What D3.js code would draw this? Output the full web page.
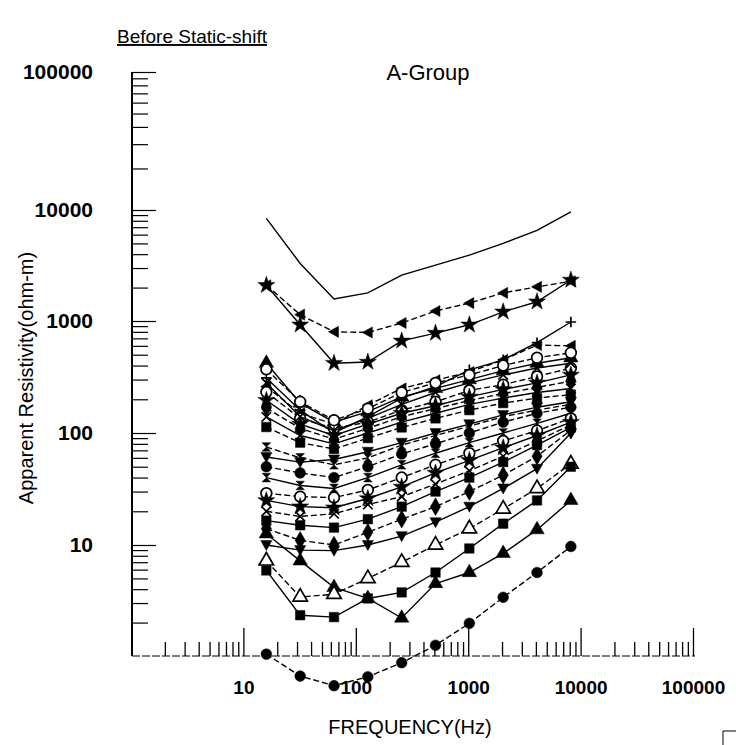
<html lang="en">
<head>
  <meta http-equiv="Content-Type" content="text/html; charset=utf-8" />
  <script src="https://d3js.org/d3.v7.min.js"></script>
  <style>
    body { margin: 0; background: #fff; }
    text { font-family: "Liberation Sans", Arial, sans-serif; fill: #000; }
  </style>
</head>
<body>
  <div id="chart"></div>
  <script>
    'use strict';
    const svgWidth = 736;
    const svgHeight = 745;

    // frequencies sampled (Hz)
    const freqs = [16, 32, 64, 128, 256, 512, 1024, 2048, 4096, 8192];

    // apparent resistivity (ohm-m), one list per station
    const s01 = [8400, 3300, 1580, 1790, 2590, 3190, 3920, 5000, 6550, 9600];
    const s02 = [2100, 1140, 800, 790, 960, 1230, 1450, 1790, 2030, 2280];
    const s03 = [2100, 925, 420, 430, 665, 780, 925, 1210, 1490, 2340];
    const s04 = [420, 185, 125, 155, 210, 250, 300, 360, 420, 470];
    const s05 = [310, 160, 100, 140, 205, 260, 366, 450, 640, 980];
    const s06 = [260, 150, 120, 177, 250, 296, 350, 450, 610, 600];
    const s07 = [232, 135, 110, 125, 160, 190, 240, 270, 320, 380];
    const s08 = [196, 120, 95, 120, 150, 175, 210, 245, 280, 330];
    const s09 = [167, 110, 88, 110, 140, 165, 195, 225, 255, 290];
    const s10 = [139, 95, 80, 100, 125, 150, 180, 205, 230, 250];
    const s11 = [113, 82, 72, 90, 112, 135, 160, 185, 205, 220];
    const s12 = [61, 55, 58, 68, 82, 100, 120, 145, 170, 190];
    const s13 = [50, 44, 40, 50, 65, 80, 100, 125, 150, 170];
    const s14 = [40, 34, 32, 40, 52, 66, 82, 100, 122, 150];
    const s15 = [29, 27, 26.5, 31, 40, 52, 66, 85, 105, 135];
    const s16 = [25, 22, 21.5, 26, 33, 44, 57, 74, 95, 125];
    const s17 = [20, 18, 19, 23, 27, 35, 46, 62, 85, 118];
    const s18 = [16.5, 15, 14.3, 17, 22, 30, 40, 55, 78, 112];
    const s19 = [14, 11, 10, 13, 17, 22, 30, 42, 62, 106];
    const s20 = [10, 9, 8.9, 10, 12, 16, 22, 32, 48, 100];
    const s21 = [12.6, 7.2, 4.15, 3.3, 2.2, 4.5, 5.65, 8.4, 13.7, 25];
    const s22 = [7.2, 3.4, 3.6, 5, 7, 10, 14, 21, 32, 53];
    const s23 = [5.9, 2.33, 2.24, 3.3, 3.74, 5.65, 9.3, 15.5, 25, 50];
    const s24 = [1.04, 0.66, 0.54, 0.65, 0.87, 1.25, 1.97, 3.38, 5.65, 9.7];
    const s25 = [370, 190, 130, 165, 230, 280, 330, 400, 470, 520];
    const s26 = [280, 140, 105, 135, 180, 230, 280, 330, 380, 420];
    const s27 = [75, 60, 52, 60, 78, 95, 115, 140, 160, 180];

    // marker + dash per station
    const stations = [
      [s01, "none", ""], [s02, "ltri", "6,3"], [s03, "star", ""],
      [s04, "tri", ""], [s05, "plus", ""], [s06, "ltri", "6,3"],
      [s07, "ocircle", "6,3"], [s08, "star", ""], [s09, "diamond", "6,3"],
      [s10, "cross", ""], [s11, "square", "6,3"], [s12, "dtri", ""],
      [s13, "circle", "6,3"], [s14, "hour", ""], [s15, "ocircle", "6,3"],
      [s16, "star", ""], [s17, "cross", "6,3"], [s18, "square", ""],
      [s19, "diamond", "6,3"], [s20, "dtri", ""], [s21, "tri", ""],
      [s22, "otri", "6,3"], [s23, "square", ""], [s24, "circle", "6,3"],
      [s25, "ocircle", "6,3"], [s26, "cross", ""], [s27, "hour", "6,3"]
    ];

    const decades = [1, 10, 100, 1000, 10000, 100000];
    const yLabels = ["", "10", "100", "1000", "10000", "100000"];
    const xLabels = ["", "10", "100", "1000", "10000", "100000"];

    const x = d3.scaleLog().domain([1, 100000]).range([131, 693]);
    // the scanned axis has a taller top decade
    const y = d3.scaleLog().domain(decades).range([656, 545, 433, 321, 210, 72]);

    const svg = d3.select("#chart").append("svg")
      .attr("width", svgWidth).attr("height", svgHeight);

    // minor ticks 2..9 per decade
    const minor = [];
    for (let d = 1; d < 100000; d *= 10)
      for (let m = 2; m <= 9; m++) minor.push(d * m);

    // y axis (ticks pointing into the plot)
    const yMinorAxis = svg.append("g").attr("transform", "translate(132,0)")
      .call(d3.axisRight(y).tickValues(minor).tickSize(16).tickFormat(""));
    const yMajorAxis = svg.append("g").attr("transform", "translate(132,0)")
      .call(d3.axisRight(y).tickValues(decades.slice(1)).tickSize(24).tickFormat(""));
    [yMinorAxis, yMajorAxis].forEach(g => {
      g.select(".domain").remove();
      g.selectAll("line").attr("stroke", "#000").attr("stroke-width", 1.2);
    });
    svg.append("line").attr("x1", 132).attr("x2", 132)
      .attr("y1", y(100000)).attr("y2", y(1))
      .attr("stroke", "#000").attr("stroke-width", 2);

    const yLab = svg.append("g").attr("transform", "translate(96,0)")
      .call(d3.axisLeft(y).tickValues(decades).tickSize(0)
        .tickFormat((d, i) => yLabels[i]));
    yLab.select(".domain").remove();
    yLab.selectAll("text").attr("font-size", 21).attr("font-weight", "bold")
      .attr("font-family", "Liberation Sans, Arial, sans-serif");

    // x axis (ticks pointing up from the bottom line)
    const xMinorAxis = svg.append("g").attr("transform", "translate(0,656)")
      .call(d3.axisTop(x).tickValues(minor).tickSize(14).tickFormat(""));
    const xMajorAxis = svg.append("g").attr("transform", "translate(0,656)")
      .call(d3.axisTop(x).tickValues(decades.slice(1)).tickSize(28).tickFormat(""));
    [xMinorAxis, xMajorAxis].forEach(g => {
      g.select(".domain").remove();
      g.selectAll("line").attr("stroke", "#000").attr("stroke-width", 1.3);
    });
    svg.append("line").attr("x1", 132).attr("x2", 695)
      .attr("y1", 656).attr("y2", 656)
      .attr("stroke", "#000").attr("stroke-width", 1).attr("stroke-dasharray", "8,2");

    const xLab = svg.append("g").attr("transform", "translate(0,677)")
      .call(d3.axisBottom(x).tickValues(decades).tickSize(0)
        .tickFormat((d, i) => xLabels[i]));
    xLab.select(".domain").remove();
    xLab.selectAll("text").attr("font-size", 19).attr("font-weight", "bold")
      .attr("font-family", "Liberation Sans, Arial, sans-serif");

    // marker shapes
    const symLeftTri = { draw(ctx, size) {
      const r = Math.sqrt(size) / 1.7;
      ctx.moveTo(-r, 0); ctx.lineTo(r * 0.8, -r); ctx.lineTo(r * 0.8, r); ctx.closePath();
    } };
    const symDownTri = { draw(ctx, size) {
      const r = Math.sqrt(size) / 1.7;
      ctx.moveTo(0, r); ctx.lineTo(-r, -r * 0.8); ctx.lineTo(r, -r * 0.8); ctx.closePath();
    } };
    const symHour = { draw(ctx, size) {
      const r = Math.sqrt(size) / 2.2;
      ctx.moveTo(-r, -r); ctx.lineTo(r, -r); ctx.lineTo(-r, r); ctx.lineTo(r, r); ctx.closePath();
    } };
    const symX = { draw(ctx, size) {
      const r = Math.sqrt(size) / 2;
      ctx.moveTo(-r, -r); ctx.lineTo(r, r); ctx.moveTo(r, -r); ctx.lineTo(-r, r);
    } };
    const symPlus = { draw(ctx, size) {
      const r = Math.sqrt(size) / 1.8;
      ctx.moveTo(-r, 0); ctx.lineTo(r, 0); ctx.moveTo(0, -r); ctx.lineTo(0, r);
    } };
    const shapes = {
      tri: [d3.symbolTriangle, true], otri: [d3.symbolTriangle, false],
      ltri: [symLeftTri, true], dtri: [symDownTri, true],
      star: [d3.symbolStar, true], circle: [d3.symbolCircle, true],
      ocircle: [d3.symbolCircle, false], diamond: [d3.symbolDiamond, true],
      square: [d3.symbolSquare, true], hour: [symHour, true],
      cross: [symX, false], plus: [symPlus, false]
    };

    const line = d3.line().x((d, i) => x(freqs[i])).y(d => y(d));

    stations.forEach(([vals, mark, dash]) => {
      svg.append("path").attr("d", line(vals))
        .attr("fill", "none").attr("stroke", "#000")
        .attr("stroke-width", 1.4).attr("stroke-dasharray", dash);
      if (mark === "none") return;
      const [type, filled] = shapes[mark];
      svg.append("g").selectAll("path").data(vals).join("path")
        .attr("transform", (d, i) => `translate(${x(freqs[i])},${y(d)})`)
        .attr("d", d3.symbol().type(type).size(90))
        .attr("fill", filled ? "#000" : "#fff")
        .attr("stroke", "#000").attr("stroke-width", filled ? 0.5 : 1.7);
    });

    // titles
    svg.append("text").attr("x", 117).attr("y", 43).attr("font-size", 19)
      .attr("text-decoration", "underline").text("Before Static-shift");
    svg.append("text").attr("x", 428).attr("y", 80).attr("text-anchor", "middle")
      .attr("font-size", 22).text("A-Group");
    svg.append("text").attr("x", 410).attr("y", 734).attr("text-anchor", "middle")
      .attr("font-size", 20).text("FREQUENCY(Hz)");
    svg.append("text").attr("transform", "translate(33,378) rotate(-90)")
      .attr("text-anchor", "middle").attr("font-size", 20)
      .text("Apparent Resistivity(ohm-m)");

    // corner mark at bottom right of the scan
    svg.append("path").attr("d", "M723,745 L723,731 L736,731")
      .attr("fill", "none").attr("stroke", "#000").attr("stroke-width", 1);
  </script>
</body>
</html>
